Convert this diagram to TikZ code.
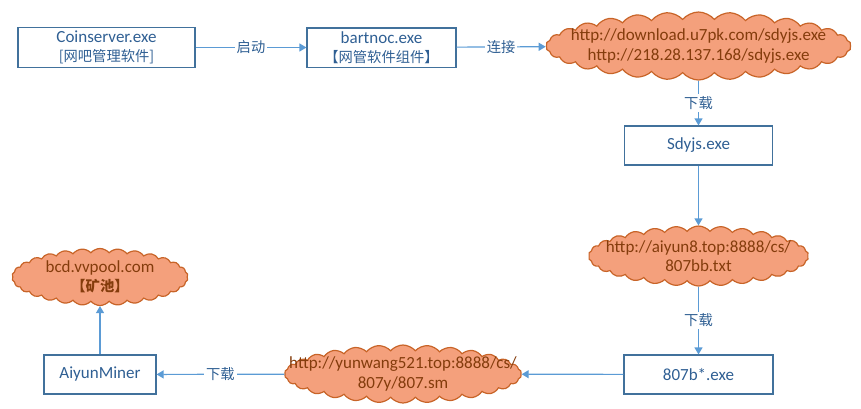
\documentclass[tikz,border=0pt]{standalone}
\usepackage{fontspec}
\setmainfont{Carlito}
\newfontfamily\cjk[Scale=0.84]{Noto Sans CJK SC}
\usetikzlibrary{shapes.symbols,arrows.meta}
\definecolor{boxline}{HTML}{41719C}
\definecolor{boxtext}{HTML}{2F5F93}
\definecolor{arrowline}{HTML}{5B9BD5}
\definecolor{cloudfill}{HTML}{F4A07C}
\definecolor{cloudline}{HTML}{C86428}
\definecolor{cloudtext}{HTML}{843C0C}

\begin{document}
\begin{tikzpicture}[x=1pt,y=-1pt,>={Triangle[width=8pt,length=7pt]},
  box node/.style={draw=boxline,line width=1.2pt,text=boxtext,minimum height=39pt,align=center,font=\fontsize{17}{19.5}\selectfont},
  cloud node/.style={cloud,cloud puffs=30,cloud puff arc=100,cloud ignores aspect,draw=cloudline,line width=1.2pt,fill=cloudfill,inner sep=0pt},
  cloud text/.style={text=cloudtext,align=center,font=\fontsize{17}{19.5}\selectfont},
  link/.style={->,draw=arrowline,line width=1.2pt},
  link label/.style={fill=white,text=boxtext,inner sep=2pt,font=\fontsize{17}{19.5}\selectfont}]
            \useasboundingbox (0,0) rectangle (861,408);

            \node[box node,minimum width=177pt] (1) at (106.5,47.5) {Coinserver.exe\\{\cjk[网吧管理软件]}};
            \node[box node,minimum width=149pt] (2) at (381.5,47.5) {bartnoc.exe\\{\cjk【网管软件组件】}};

            \node[cloud node,minimum width=305pt,minimum height=68pt,label={[cloud text]center:{http://download.u7pk.com/sdyjs.exe\\http://218.28.137.168/sdyjs.exe}}] (3) at (698.5,46) {};

            \node[box node,minimum width=148pt] (4) at (698.5,145.5) {Sdyjs.exe};

            \node[cloud node,minimum width=220pt,minimum height=60pt,label={[cloud text]center:{http://aiyun8.top:8888/cs/\\807bb.txt}}] (5) at (698.5,256) {};

            \node[box node,minimum width=149pt] (6) at (698.5,374.5) {807b*.exe};

            \node[cloud node,minimum width=237pt,minimum height=58pt,label={[cloud text]center:{http://yunwang521.top:8888/cs/\\807y/807.sm}}] (7) at (403,374) {};

            \node[box node,minimum width=112pt] (8) at (100,374.5) {AiyunMiner};

            \node[cloud node,minimum width=176pt,minimum height=57pt,label={[cloud text]center:{bcd.vvpool.com\\{\cjk\bfseries 【矿池】}}}] (9) at (100,277) {};

            \path[every edge/.style={link}]
                (1) edge node[link label]{\cjk 启动} (2)
                (2) edge node[link label]{\cjk 连接} (3)
                (3) edge node[link label]{\cjk 下载} (4)
                (4) edge (5)
                (5) edge node[link label]{\cjk 下载} (6)
                (6) edge (7)
                (7) edge node[link label]{\cjk 下载} (8)
                (8) edge (9)
                ;
\end{tikzpicture}
\end{document}
